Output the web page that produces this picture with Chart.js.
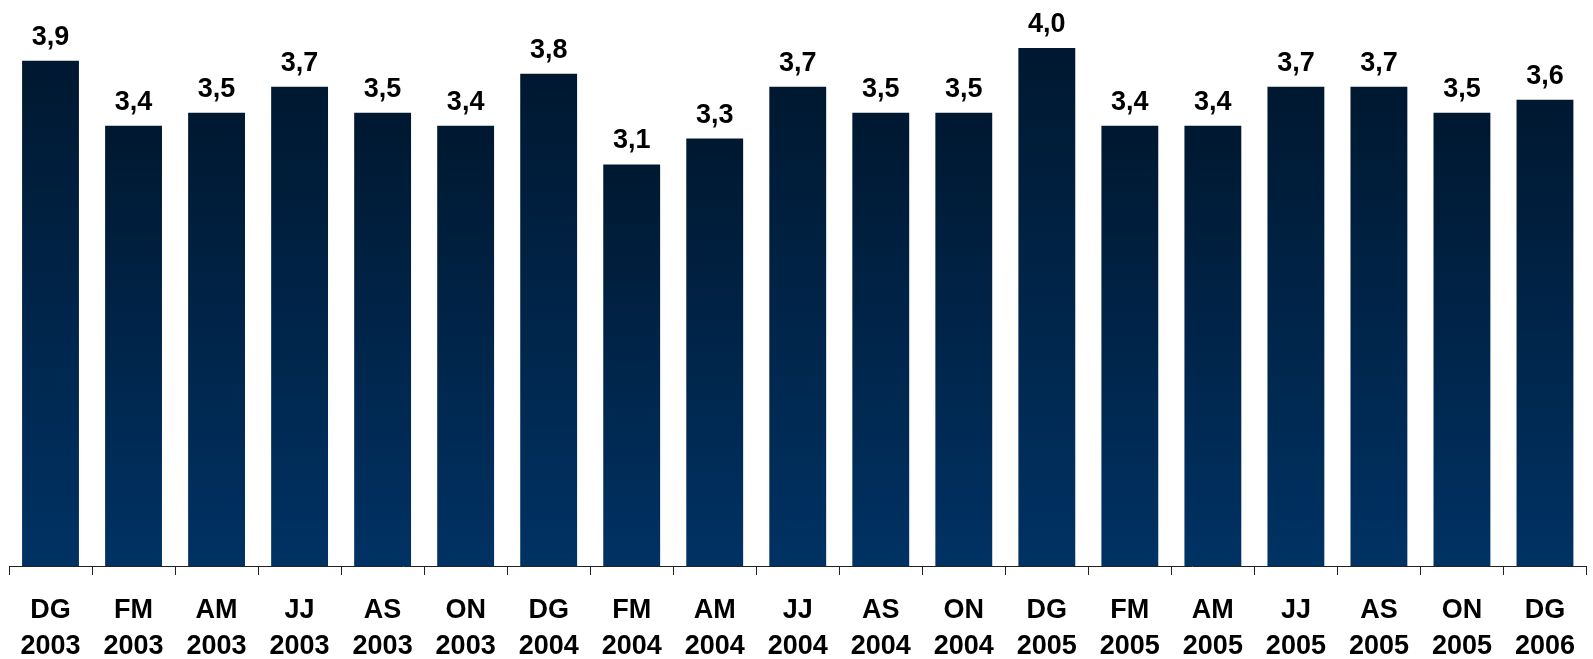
<!DOCTYPE html>
<html>
<head>
<meta charset="utf-8">
<script src="https://cdn.jsdelivr.net/npm/chart.js@4/dist/chart.umd.min.js"></script>
<style>
  html, body { margin: 0; padding: 0; background: #fff; }
  #wrap { width: 1593px; height: 659px; }
</style>
</head>
<body>
<div id="wrap"><canvas id="barChart" width="1593" height="659"></canvas></div>
<script>
var periods = ['DG', 'FM', 'AM', 'JJ', 'AS', 'ON', 'DG', 'FM', 'AM', 'JJ', 'AS', 'ON', 'DG', 'FM', 'AM', 'JJ', 'AS', 'ON', 'DG'];
var years = ['2003', '2003', '2003', '2003', '2003', '2003', '2004', '2004', '2004', '2004', '2004', '2004', '2005', '2005', '2005', '2005', '2005', '2005', '2006'];
var values = [3.9, 3.4, 3.5, 3.7, 3.5, 3.4, 3.8, 3.1, 3.3, 3.7, 3.5, 3.5, 4.0, 3.4, 3.4, 3.7, 3.7, 3.5, 3.6];

var labels = periods.map(function (p, i) { return [p, years[i]]; });
var fontFamily = '"Liberation Sans", Arial, sans-serif';

// gradient per bar, dark at the top
function barGradient(context) {
    var chart = context.chart;
    if (!chart.chartArea) return '#002448';
    var y = chart.scales.y;
    var top = y.getPixelForValue(values[context.dataIndex]);
    var bottom = y.getPixelForValue(0);
    var g = chart.ctx.createLinearGradient(0, top, 0, bottom);
    g.addColorStop(0, '#001830');
    g.addColorStop(1, '#003264');
    return g;
}

var valueLabels = {
    id: 'valueLabels',
    afterDatasetsDraw: function (chart) {
        var ctx = chart.ctx;
        var meta = chart.getDatasetMeta(0);
        ctx.save();
        ctx.font = 'bold 27px ' + fontFamily;
        ctx.fillStyle = '#000';
        ctx.textAlign = 'center';
        ctx.textBaseline = 'alphabetic';
        meta.data.forEach(function (bar, i) {
            ctx.fillText(values[i].toFixed(1).replace('.', ','), bar.x, bar.y - 16);
        });
        ctx.restore();
    }
};

var ctx = document.getElementById('barChart').getContext('2d');
new Chart(ctx, {
    type: 'bar',
    data: {
        labels: labels,
        datasets: [{
            data: values,
            backgroundColor: barGradient,
            borderWidth: 0,
            categoryPercentage: 1,
            barPercentage: 0.685
        }]
    },
    options: {
        responsive: false,
        animation: false,
        layout: { padding: { left: 9, right: 0, top: 0, bottom: 0 } },
        plugins: {
            legend: { display: false },
            tooltip: { enabled: false }
        },
        scales: {
            x: {
                offset: true,
                afterFit: function (scale) { scale.height = 93; },
                grid: {
                    offset: true,
                    drawOnChartArea: false,
                    drawTicks: true,
                    tickLength: 9,
                    color: '#222',
                    lineWidth: 1
                },
                border: { display: true, color: '#222', width: 1 },
                ticks: {
                    color: '#000',
                    padding: 18,
                    maxRotation: 0,
                    autoSkip: false,
                    font: { family: fontFamily, size: 27, weight: 'bold', lineHeight: 1.32 }
                }
            },
            y: {
                display: false,
                min: 0,
                max: 4.37
            }
        }
    },
    plugins: [valueLabels]
});
</script>
</body>
</html>
